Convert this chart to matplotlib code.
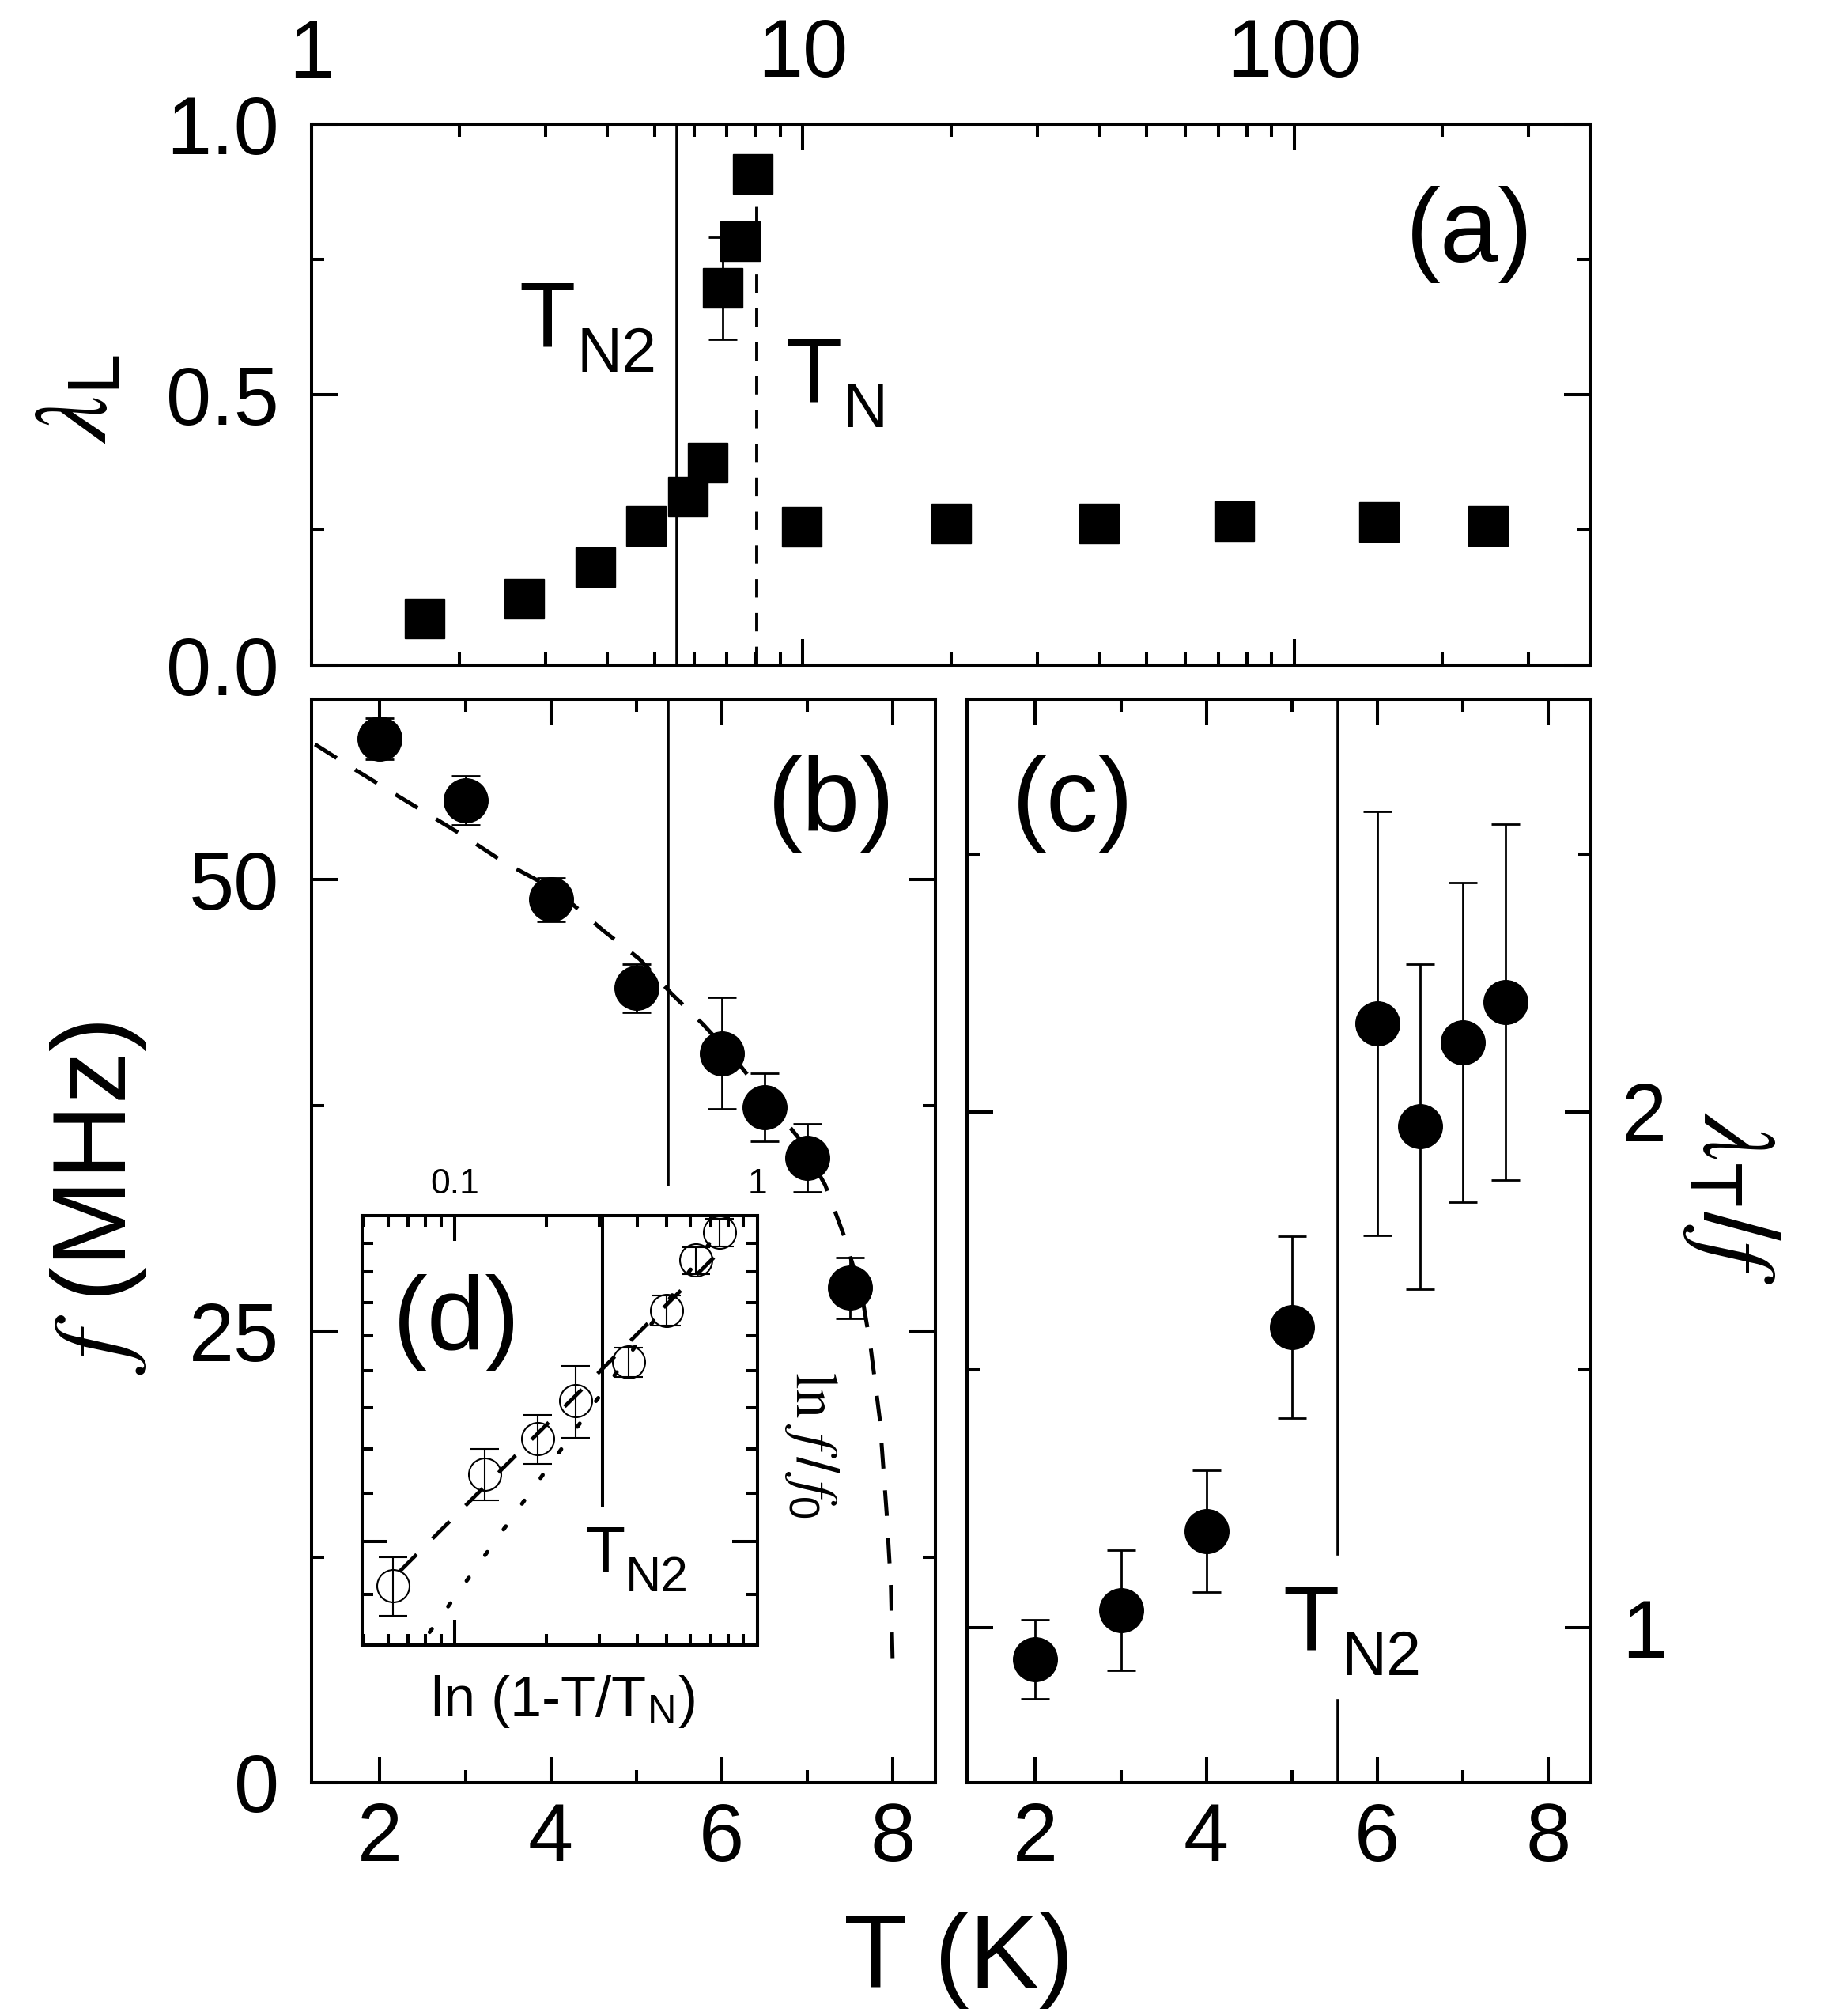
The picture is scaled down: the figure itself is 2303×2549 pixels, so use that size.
import numpy as np
import matplotlib
matplotlib.use("Agg")
import matplotlib.pyplot as plt
from matplotlib.ticker import FixedLocator, NullFormatter, FuncFormatter

plt.rcParams['font.family'] = ['Liberation Sans', 'DejaVu Sans']
plt.rcParams['mathtext.fontset'] = 'custom'
plt.rcParams['mathtext.rm'] = 'Liberation Sans'
plt.rcParams['mathtext.it'] = 'STIXGeneral:italic'
plt.rcParams['mathtext.bf'] = 'STIXGeneral'
plt.rcParams['mathtext.sf'] = 'Liberation Sans'

# ---------------- data ----------------
# (a) lambda_L vs T (log T)
T_a = [1.70, 2.71, 3.78, 4.80, 5.84, 6.40, 6.87, 7.46, 7.92, 9.95, 20.0, 40.1, 75.4, 149.0, 248.0]
lamL = [0.086, 0.123, 0.181, 0.258, 0.312, 0.374, 0.697, 0.784, 0.908, 0.256, 0.262, 0.262, 0.266, 0.265, 0.258]
lamL_err = [0, 0, 0, 0, 0, 0, 0.094, 0, 0, 0, 0, 0, 0, 0, 0]
TN2_a = 5.53
TN_a = 8.05

# (b) frequency vs T
T_b = [2, 3, 4, 5, 6, 6.5, 7, 7.5]
f_b = [57.8, 54.4, 48.9, 44.0, 40.4, 37.4, 34.6, 27.4]
f_err = [1.15, 1.35, 1.2, 1.35, 3.1, 1.9, 1.9, 1.7]
# dashed fit curve
T_fit = [1.24, 1.64, 2.12, 2.54, 2.99, 3.44, 3.87, 4.24, 4.61, 5.04, 5.41, 5.78,
         6.15, 6.52, 6.90, 7.21, 7.43, 7.64, 7.74, 7.85, 7.93, 7.98, 8.00]
f_fit = [57.5, 56.3, 54.9, 53.7, 52.4, 51.0, 49.9, 48.7, 47.2, 45.6, 43.7, 42.0,
         40.1, 37.9, 35.7, 33.1, 30.3, 27.0, 24.2, 20.1, 14.9, 10.8, 6.6]
TN2_b = 5.37

# (c) lambda_T / f vs T
T_c = [2, 3, 4, 5, 6, 6.5, 7, 7.5]
lamT_f = [0.939, 1.034, 1.187, 1.583, 2.171, 1.972, 2.135, 2.213]
lamT_err = [0.077, 0.116, 0.118, 0.176, 0.411, 0.315, 0.31, 0.345]
TN2_c = 5.54

# (d) inset: f/f0 vs (1 - T/TN), log-log
x_d = [0.0625, 0.125, 0.1875, 0.25, 0.375, 0.5, 0.625, 0.75]
y_d = [0.916, 1.142, 1.224, 1.320, 1.424, 1.576, 1.740, 1.838]
yerr_d = [0.053, 0.058, 0.059, 0.093, 0.041, 0.047, 0.046, 0.051]
dash_x = [0.0655, 0.752]
dash_y = [0.942, 1.771]
dot_x = [0.0824, 0.721]
dot_y = [0.836, 1.824]
xN2_d = 0.3066

# ---------------- figure ----------------
W, H = 2303, 2549
fig = plt.figure(figsize=(W / 100, H / 100), dpi=100)


def fr(x0, y0, x1, y1):
    return [x0 / W, 1 - y1 / H, (x1 - x0) / W, (y1 - y0) / H]


def ftext(x, y, s, **kw):
    return fig.text(x / W, 1 - y / H, s, **kw)


def tsub(x, y, dx, dy, main, sub, size, subsize, z=10):
    ftext(x, y, main, ha='left', va='baseline', fontsize=size, zorder=z)
    ftext(x + dx, y + dy, sub, ha='left', va='baseline', fontsize=subsize, zorder=z)


LW_SP = 2.9
TICK_MAJ = 23.8
TICK_MIN = 11.5
LBL = 74


def style(ax, lsize=LBL):
    for sp in ax.spines.values():
        sp.set_linewidth(LW_SP)
    ax.tick_params(which='both', direction='in', top=True, right=True,
                   width=LW_SP, labelsize=lsize)
    ax.tick_params(which='major', length=TICK_MAJ)
    ax.tick_params(which='minor', length=TICK_MIN)


MS_SQ = 36
MS_C = 40
CAP = 13
ELW = 2.0

# ---------- panel (a) ----------
axa = fig.add_axes(fr(394, 157, 2011, 841))
style(axa)
axa.set_xscale('log')
axa.set_xlim(1, 400)
axa.set_ylim(0, 1)
axa.xaxis.set_major_locator(FixedLocator([1, 10, 100]))
axa.xaxis.set_major_formatter(FuncFormatter(lambda v, p: f"{v:g}"))
axa.xaxis.set_minor_locator(FixedLocator([m * d for d in (1, 10, 100) for m in range(2, 10)]))
axa.xaxis.set_minor_formatter(NullFormatter())
axa.yaxis.set_major_locator(FixedLocator([0, 0.5, 1.0]))
axa.yaxis.set_major_formatter(FuncFormatter(lambda v, p: f"{v:.1f}"))
axa.yaxis.set_minor_locator(FixedLocator([0.25, 0.75]))
axa.tick_params(axis='x', labeltop=True, labelbottom=False, pad=27)
axa.tick_params(axis='y', pad=29.5)
axa.axvline(TN2_a, color='black', lw=2.6, zorder=1)
axa.plot([TN_a, TN_a], [0, 0.88], color='black', lw=2.8, ls=(0, (6.0, 5.0)), zorder=1)
axa.errorbar(T_a, lamL, yerr=lamL_err, fmt='s', ms=MS_SQ, color='black',
             ecolor='black', elinewidth=ELW, capsize=CAP, capthick=ELW, zorder=3)

# ---------- panel (b) ----------
axb = fig.add_axes(fr(394, 884, 1183, 2254))
style(axb)
axb.set_xlim(1.2, 8.5)
axb.set_ylim(0, 60)
axb.xaxis.set_major_locator(FixedLocator([2, 4, 6, 8]))
axb.xaxis.set_minor_locator(FixedLocator([3, 5, 7]))
axb.yaxis.set_major_locator(FixedLocator([0, 25, 50]))
axb.yaxis.set_minor_locator(FixedLocator([12.5, 37.5]))
axb.tick_params(axis='x', pad=17)
axb.tick_params(axis='y', pad=29.5)
axb.plot([TN2_b, TN2_b], [33.1, 60], color='black', lw=2.6, zorder=1)
axb.plot(T_fit, f_fit, color='black', lw=3.6, ls=(0, (6.5, 5.5)), zorder=2)
axb.errorbar(T_b, f_b, yerr=f_err, fmt='o', ms=MS_C, color='black',
             ecolor='black', elinewidth=ELW, capsize=CAP, capthick=ELW, zorder=3)

# ---------- panel (c) ----------
axc = fig.add_axes(fr(1223, 884, 2012, 2254))
style(axc)
axc.set_xlim(1.2, 8.5)
axc.set_ylim(0.70, 2.80)
axc.xaxis.set_major_locator(FixedLocator([2, 4, 6, 8]))
axc.xaxis.set_minor_locator(FixedLocator([3, 5, 7]))
axc.yaxis.set_major_locator(FixedLocator([1, 2]))
axc.yaxis.set_minor_locator(FixedLocator([1.5, 2.5]))
axc.tick_params(axis='y', labelleft=False, labelright=True, pad=28)
axc.tick_params(axis='x', pad=17)
axc.plot([TN2_c, TN2_c], [1.143, 2.80], color='black', lw=2.6, zorder=1)
axc.plot([TN2_c, TN2_c], [0.70, 0.86], color='black', lw=2.6, zorder=1)
axc.errorbar(T_c, lamT_f, yerr=lamT_err, fmt='o', ms=MS_C, color='black',
             ecolor='black', elinewidth=ELW, capsize=CAP, capthick=ELW, zorder=3)

# ---------- inset (d) ----------
axd = fig.add_axes(fr(458, 1537, 958, 2080), zorder=5)
axd.set_facecolor('white')
style(axd, lsize=32)
axd.set_xscale('log')
axd.set_yscale('log')
axd.set_xlim(0.0493, 1.0)
axd.set_ylim(0.815, 1.9)
axd.xaxis.set_major_locator(FixedLocator([0.1, 1.0]))
axd.xaxis.set_major_formatter(FuncFormatter(lambda v, p: f"{v:g}"))
axd.xaxis.set_minor_locator(FixedLocator([0.05, 0.06, 0.07, 0.08, 0.09, 0.2, 0.3, 0.4,
                                          0.5, 0.6, 0.7, 0.8, 0.9]))
axd.xaxis.set_minor_formatter(NullFormatter())
axd.yaxis.set_major_locator(FixedLocator([1.0]))
axd.yaxis.set_major_formatter(NullFormatter())
axd.yaxis.set_minor_locator(FixedLocator([0.9, 1.1, 1.2, 1.3, 1.4, 1.5, 1.6, 1.7, 1.8]))
axd.yaxis.set_minor_formatter(NullFormatter())
axd.tick_params(axis='x', labeltop=True, labelbottom=False, pad=14)
axd.tick_params(axis='y', labelleft=False)
axd.tick_params(which='major', length=23)
axd.tick_params(which='minor', length=10)
axd.plot([xN2_d, xN2_d], [1.074, 1.9], color='black', lw=2.9, zorder=1)
axd.plot(dash_x, dash_y, color='black', lw=3.4, ls=(0, (6.5, 6.0)), zorder=2)
axd.plot(dot_x, dot_y, color='black', lw=3.6, ls=(0, (1, 7.0)), zorder=2,
         dash_capstyle='round')
axd.errorbar(x_d, y_d, yerr=yerr_d, fmt='o', ms=29.5, mfc='none', mec='black', mew=1.5,
             ecolor='black', elinewidth=1.5, capsize=CAP, capthick=1.5, zorder=3)

# ---------- texts ----------
ftext(1858, 297, '(a)', ha='center', va='center', fontsize=95)
ftext(1051, 1016, '(b)', ha='center', va='center', fontsize=95)
ftext(1357, 1016, '(c)', ha='center', va='center', fontsize=95)
ftext(577, 1673, '(d)', ha='center', va='center', fontsize=95, zorder=10)

tsub(656, 439, 74, 31, 'T', 'N2', 84, 57)
tsub(993, 509, 73, 31, 'T', 'N', 84, 57)
tsub(1622, 2087, 74, 31, 'T', 'N2', 84, 57)
tsub(740, 1987, 51, 25, 'T', 'N2', 59, 45)

ftext(1212, 2513, 'T (K)', ha='center', va='baseline', fontsize=95)
ftext(125, 1515, r'$f$ (MHz)', ha='center', va='center', rotation=90, fontsize=95)
ftext(100, 505, r'$\lambda_{\mathrm{L}}$', ha='center', va='center', rotation=90, fontsize=95)
ftext(2189, 1515, r'$\lambda_{\mathrm{T}}/f$', ha='center', va='center', rotation=-90, fontsize=95)
ftext(1027, 1827, r'$\mathbf{ln}\ f\,/\,f_{\mathit{0}}$', ha='center', va='center',
      rotation=-90, fontsize=54, zorder=10)
ftext(712, 2170, r'ln (1-T/T$_{\mathrm{N}}$)', ha='center', va='baseline', fontsize=52, zorder=10)

fig.savefig('out.png', dpi=100)
